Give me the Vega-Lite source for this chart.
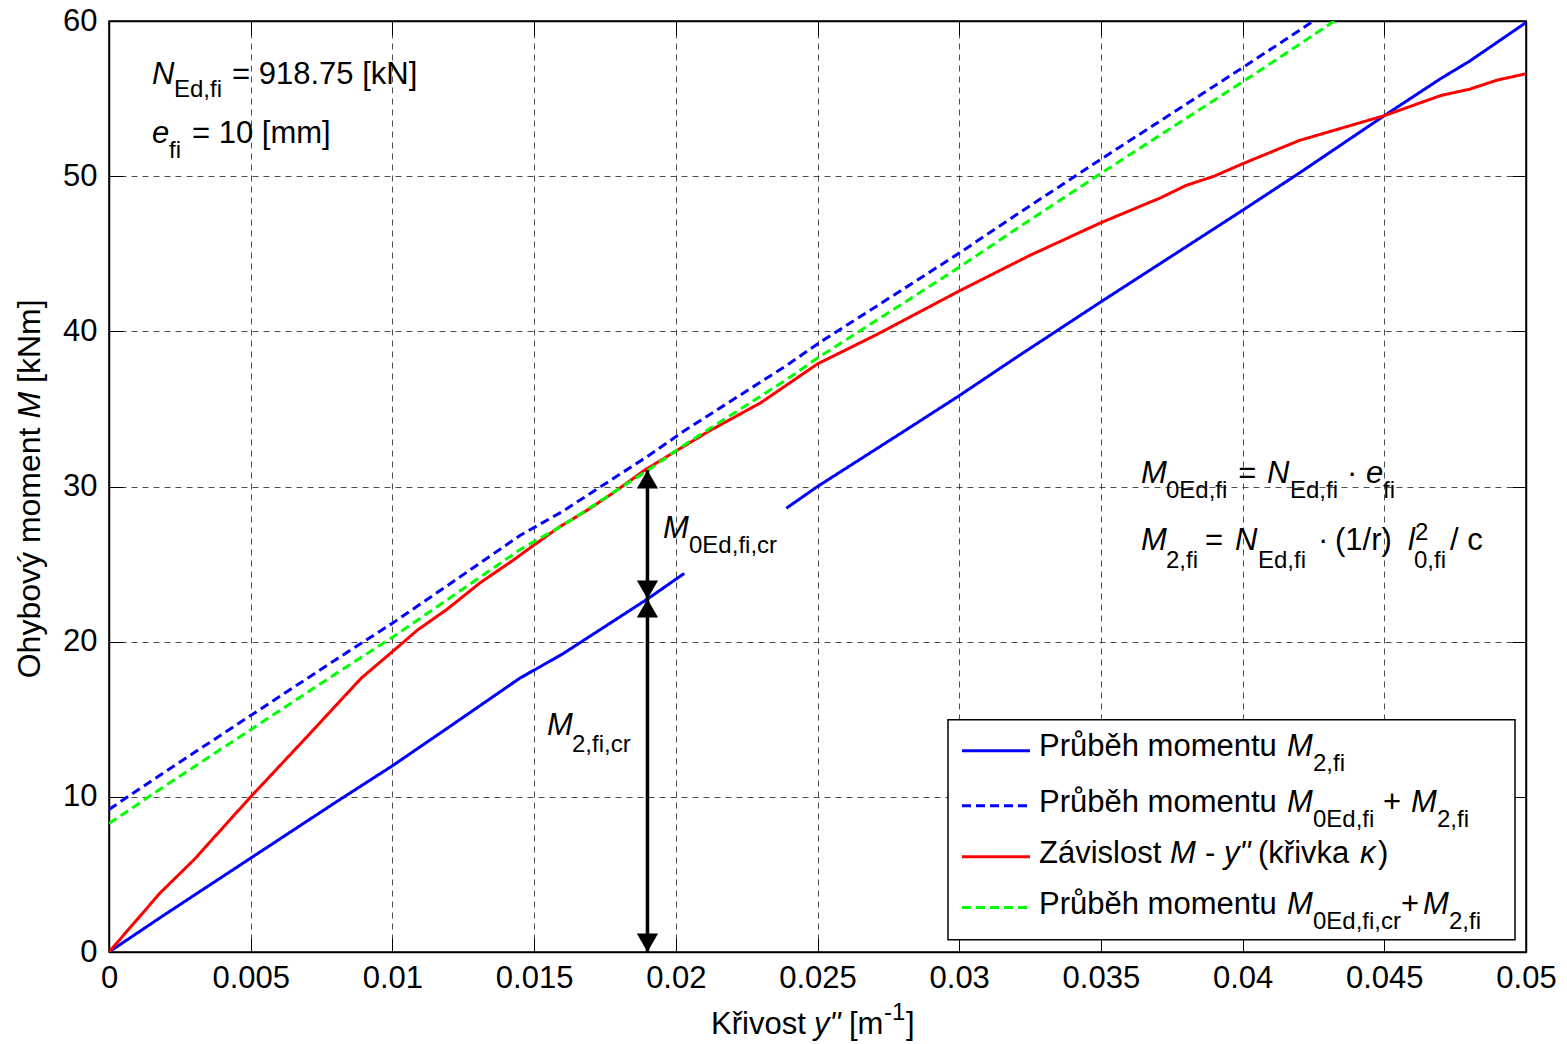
{
  "$schema": "https://vega.github.io/schema/vega-lite/v6.json",
  "width": 1417,
  "height": 931,
  "autosize": {"type": "none"},
  "padding": {"left": 109, "top": 21, "right": 41, "bottom": 92},
  "background": "white",
  "config": {
    "view": {"stroke": "black", "strokeWidth": 1.5},
    "font": "Liberation Sans",
    "text": {"font": "Liberation Sans", "color": "black"}
  },
  "datasets": {
    "curves": [
      {"x": 0, "y": 0, "s": "M2", "seg": "a"},
      {"x": 0.002, "y": 2.45, "s": "M2", "seg": "a"},
      {"x": 0.005, "y": 6.05, "s": "M2", "seg": "a"},
      {"x": 0.008, "y": 9.65, "s": "M2", "seg": "a"},
      {"x": 0.01, "y": 12.0, "s": "M2", "seg": "a"},
      {"x": 0.012, "y": 14.5, "s": "M2", "seg": "a"},
      {"x": 0.0145, "y": 17.65, "s": "M2", "seg": "a"},
      {"x": 0.016, "y": 19.2, "s": "M2", "seg": "a"},
      {"x": 0.019, "y": 22.75, "s": "M2", "seg": "a"},
      {"x": 0.0203, "y": 24.4, "s": "M2", "seg": "a"},
      {"x": 0.0239, "y": 28.6, "s": "M2", "seg": "b"},
      {"x": 0.025, "y": 30.0, "s": "M2", "seg": "b"},
      {"x": 0.028, "y": 33.5, "s": "M2", "seg": "b"},
      {"x": 0.03, "y": 35.85, "s": "M2", "seg": "b"},
      {"x": 0.032, "y": 38.3, "s": "M2", "seg": "b"},
      {"x": 0.035, "y": 41.9, "s": "M2", "seg": "b"},
      {"x": 0.04, "y": 47.8, "s": "M2", "seg": "b"},
      {"x": 0.042, "y": 50.2, "s": "M2", "seg": "b"},
      {"x": 0.045, "y": 53.9, "s": "M2", "seg": "b"},
      {"x": 0.047, "y": 56.3, "s": "M2", "seg": "b"},
      {"x": 0.048, "y": 57.4, "s": "M2", "seg": "b"},
      {"x": 0.05, "y": 59.9, "s": "M2", "seg": "b"},
      {"x": 0, "y": 9.19, "s": "M0M2", "seg": "a"},
      {"x": 0.002, "y": 11.64, "s": "M0M2", "seg": "a"},
      {"x": 0.005, "y": 15.24, "s": "M0M2", "seg": "a"},
      {"x": 0.008, "y": 18.84, "s": "M0M2", "seg": "a"},
      {"x": 0.01, "y": 21.19, "s": "M0M2", "seg": "a"},
      {"x": 0.012, "y": 23.69, "s": "M0M2", "seg": "a"},
      {"x": 0.0145, "y": 26.84, "s": "M0M2", "seg": "a"},
      {"x": 0.016, "y": 28.39, "s": "M0M2", "seg": "a"},
      {"x": 0.019, "y": 31.94, "s": "M0M2", "seg": "a"},
      {"x": 0.0203, "y": 33.59, "s": "M0M2", "seg": "a"},
      {"x": 0.0239, "y": 37.79, "s": "M0M2", "seg": "a"},
      {"x": 0.025, "y": 39.19, "s": "M0M2", "seg": "a"},
      {"x": 0.028, "y": 42.69, "s": "M0M2", "seg": "a"},
      {"x": 0.03, "y": 45.04, "s": "M0M2", "seg": "a"},
      {"x": 0.032, "y": 47.49, "s": "M0M2", "seg": "a"},
      {"x": 0.035, "y": 51.09, "s": "M0M2", "seg": "a"},
      {"x": 0.04, "y": 56.99, "s": "M0M2", "seg": "a"},
      {"x": 0.042, "y": 59.39, "s": "M0M2", "seg": "a"},
      {"x": 0.045, "y": 63.09, "s": "M0M2", "seg": "a"},
      {"x": 0, "y": 0, "s": "kappa", "seg": "a"},
      {"x": 0.0018, "y": 3.8, "s": "kappa", "seg": "a"},
      {"x": 0.003, "y": 5.95, "s": "kappa", "seg": "a"},
      {"x": 0.005, "y": 10.0, "s": "kappa", "seg": "a"},
      {"x": 0.007, "y": 13.9, "s": "kappa", "seg": "a"},
      {"x": 0.0089, "y": 17.65, "s": "kappa", "seg": "a"},
      {"x": 0.0099, "y": 19.2, "s": "kappa", "seg": "a"},
      {"x": 0.0109, "y": 20.77, "s": "kappa", "seg": "a"},
      {"x": 0.0119, "y": 22.05, "s": "kappa", "seg": "a"},
      {"x": 0.0131, "y": 23.8, "s": "kappa", "seg": "a"},
      {"x": 0.0143, "y": 25.3, "s": "kappa", "seg": "a"},
      {"x": 0.0149, "y": 26.1, "s": "kappa", "seg": "a"},
      {"x": 0.0159, "y": 27.4, "s": "kappa", "seg": "a"},
      {"x": 0.0169, "y": 28.5, "s": "kappa", "seg": "a"},
      {"x": 0.0178, "y": 29.6, "s": "kappa", "seg": "a"},
      {"x": 0.0189, "y": 31.05, "s": "kappa", "seg": "a"},
      {"x": 0.0202, "y": 32.5, "s": "kappa", "seg": "a"},
      {"x": 0.0212, "y": 33.6, "s": "kappa", "seg": "a"},
      {"x": 0.023, "y": 35.4, "s": "kappa", "seg": "a"},
      {"x": 0.025, "y": 37.9, "s": "kappa", "seg": "a"},
      {"x": 0.0271, "y": 39.8, "s": "kappa", "seg": "a"},
      {"x": 0.03, "y": 42.6, "s": "kappa", "seg": "a"},
      {"x": 0.0325, "y": 44.9, "s": "kappa", "seg": "a"},
      {"x": 0.035, "y": 47.0, "s": "kappa", "seg": "a"},
      {"x": 0.0371, "y": 48.6, "s": "kappa", "seg": "a"},
      {"x": 0.038, "y": 49.4, "s": "kappa", "seg": "a"},
      {"x": 0.039, "y": 50.0, "s": "kappa", "seg": "a"},
      {"x": 0.04, "y": 50.8, "s": "kappa", "seg": "a"},
      {"x": 0.042, "y": 52.3, "s": "kappa", "seg": "a"},
      {"x": 0.045, "y": 53.9, "s": "kappa", "seg": "a"},
      {"x": 0.047, "y": 55.2, "s": "kappa", "seg": "a"},
      {"x": 0.048, "y": 55.6, "s": "kappa", "seg": "a"},
      {"x": 0.049, "y": 56.2, "s": "kappa", "seg": "a"},
      {"x": 0.05, "y": 56.6, "s": "kappa", "seg": "a"},
      {"x": 0, "y": 8.28, "s": "cr", "seg": "a"},
      {"x": 0.002, "y": 10.73, "s": "cr", "seg": "a"},
      {"x": 0.005, "y": 14.33, "s": "cr", "seg": "a"},
      {"x": 0.008, "y": 17.93, "s": "cr", "seg": "a"},
      {"x": 0.01, "y": 20.28, "s": "cr", "seg": "a"},
      {"x": 0.012, "y": 22.78, "s": "cr", "seg": "a"},
      {"x": 0.0145, "y": 25.93, "s": "cr", "seg": "a"},
      {"x": 0.016, "y": 27.48, "s": "cr", "seg": "a"},
      {"x": 0.019, "y": 31.03, "s": "cr", "seg": "a"},
      {"x": 0.0203, "y": 32.68, "s": "cr", "seg": "a"},
      {"x": 0.0239, "y": 36.88, "s": "cr", "seg": "a"},
      {"x": 0.025, "y": 38.28, "s": "cr", "seg": "a"},
      {"x": 0.028, "y": 41.78, "s": "cr", "seg": "a"},
      {"x": 0.03, "y": 44.13, "s": "cr", "seg": "a"},
      {"x": 0.032, "y": 46.58, "s": "cr", "seg": "a"},
      {"x": 0.035, "y": 50.18, "s": "cr", "seg": "a"},
      {"x": 0.04, "y": 56.08, "s": "cr", "seg": "a"},
      {"x": 0.042, "y": 58.48, "s": "cr", "seg": "a"},
      {"x": 0.045, "y": 62.18, "s": "cr", "seg": "a"}
    ],
    "legendLines": [
      {"s": "M2", "ly": 12.97},
      {"s": "M0M2", "ly": 9.43},
      {"s": "kappa", "ly": 6.14},
      {"s": "cr", "ly": 2.86}
    ],
    "regText": [
      {"x": 0.00434, "y": 55.95, "t": "= 918.75 [kN]"},
      {"x": 0.002929, "y": 52.15, "t": "= 10 [mm]"},
      {"x": 0.039845, "y": 30.24, "t": "="},
      {"x": 0.043684, "y": 30.24, "t": "·"},
      {"x": 0.038673, "y": 25.92, "t": "="},
      {"x": 0.042661, "y": 25.92, "t": "·"},
      {"x": 0.04326, "y": 25.92, "t": "(1/r)"},
      {"x": 0.047318, "y": 25.92, "t": "/ c"},
      {"x": 0.032816, "y": 12.65, "t": "Průběh momentu"},
      {"x": 0.032816, "y": 9.04, "t": "Průběh momentu"},
      {"x": 0.044954, "y": 9.04, "t": "+"},
      {"x": 0.032816, "y": 5.75, "t": "Závislost"},
      {"x": 0.038673, "y": 5.75, "t": "-"},
      {"x": 0.040543, "y": 5.75, "t": "(křivka"},
      {"x": 0.044778, "y": 5.75, "t": ")"},
      {"x": 0.032816, "y": 2.47, "t": "Průběh momentu"},
      {"x": 0.045589, "y": 2.47, "t": "+"},
      {"x": 0.021242, "y": -5.27, "t": "Křivost"},
      {"x": 0.026111, "y": -5.27, "t": "[m"},
      {"x": 0.028123, "y": -5.27, "t": "]"}
    ],
    "itText": [
      {"x": 0.001517, "y": 55.95, "t": "N"},
      {"x": 0.001517, "y": 52.15, "t": "e"},
      {"x": 0.036415, "y": 30.24, "t": "M"},
      {"x": 0.040861, "y": 30.24, "t": "N"},
      {"x": 0.044355, "y": 30.24, "t": "e"},
      {"x": 0.036415, "y": 25.92, "t": "M"},
      {"x": 0.039732, "y": 25.92, "t": "N"},
      {"x": 0.045836, "y": 25.92, "t": "l"},
      {"x": 0.019548, "y": 26.69, "t": "M"},
      {"x": 0.015455, "y": 14.01, "t": "M"},
      {"x": 0.041567, "y": 12.65, "t": "M"},
      {"x": 0.041567, "y": 9.04, "t": "M"},
      {"x": 0.045942, "y": 9.04, "t": "M"},
      {"x": 0.037438, "y": 5.75, "t": "M"},
      {"x": 0.039344, "y": 5.75, "t": "y\""},
      {"x": 0.044142, "y": 5.75, "t": "κ"},
      {"x": 0.041567, "y": 2.47, "t": "M"},
      {"x": 0.046366, "y": 2.47, "t": "M"},
      {"x": 0.024876, "y": -5.27, "t": "y\""}
    ],
    "subText": [
      {"x": 0.002294, "y": 55.11, "t": "Ed,fi"},
      {"x": 0.002117, "y": 51.18, "t": "fi"},
      {"x": 0.037297, "y": 29.27, "t": "0Ed,fi"},
      {"x": 0.041673, "y": 29.27, "t": "Ed,fi"},
      {"x": 0.044954, "y": 29.27, "t": "fi"},
      {"x": 0.037297, "y": 24.76, "t": "2,fi"},
      {"x": 0.040543, "y": 24.76, "t": "Ed,fi"},
      {"x": 0.046083, "y": 26.57, "t": "2"},
      {"x": 0.046048, "y": 24.76, "t": "0,fi"},
      {"x": 0.020466, "y": 25.73, "t": "0Ed,fi,cr"},
      {"x": 0.016337, "y": 12.91, "t": "2,fi,cr"},
      {"x": 0.042484, "y": 11.68, "t": "2,fi"},
      {"x": 0.042484, "y": 8.07, "t": "0Ed,fi"},
      {"x": 0.04686, "y": 8.07, "t": "2,fi"},
      {"x": 0.042484, "y": 1.5, "t": "0Ed,fi,cr"},
      {"x": 0.047283, "y": 1.5, "t": "2,fi"},
      {"x": 0.027346, "y": -4.37, "t": "-1"}
    ],
    "yTitleReg": [
      {"x": -0.002435, "y": 17.64, "t": "Ohybový moment"},
      {"x": -0.002435, "y": 36.67, "t": "[kNm]"}
    ],
    "yTitleIt": [
      {"x": -0.002435, "y": 34.38, "t": "M"}
    ],
    "headsUp": [
      {"x": 0.019, "y": 31.05},
      {"x": 0.019, "y": 22.75}
    ],
    "headsDown": [
      {"x": 0.019, "y": 22.75},
      {"x": 0.019, "y": 0}
    ]
  },
  "layer": [
    {
      "data": {"name": "curves"},
      "mark": {"type": "line", "strokeWidth": 3, "clip": true},
      "encoding": {
        "x": {
          "field": "x", "type": "quantitative",
          "scale": {"domain": [0, 0.05], "nice": false, "zero": false},
          "axis": {
            "orient": "bottom", "title": null,
            "values": [0, 0.005, 0.01, 0.015, 0.02, 0.025, 0.03, 0.035, 0.04, 0.045, 0.05],
            "format": "~g", "labelFlush": false, "labelOverlap": false,
            "labelFont": "Liberation Sans", "labelFontSize": 31, "labelColor": "black", "labelPadding": 25,
            "tickSize": -14, "tickColor": "black", "tickWidth": 1,
            "domainColor": "black", "domainWidth": 1.5,
            "grid": true, "gridColor": "#222", "gridDash": [6, 5], "gridWidth": 1, "gridOpacity": 0.8
          }
        },
        "y": {
          "field": "y", "type": "quantitative",
          "scale": {"domain": [0, 60], "nice": false},
          "axis": {
            "orient": "left", "title": null,
            "values": [0, 10, 20, 30, 40, 50, 60],
            "labelFlush": false, "labelOverlap": false,
            "labelFont": "Liberation Sans", "labelFontSize": 31, "labelColor": "black", "labelPadding": 26,
            "tickSize": -14, "tickColor": "black", "tickWidth": 1,
            "domainColor": "black", "domainWidth": 1.5,
            "grid": true, "gridColor": "#222", "gridDash": [6, 5], "gridWidth": 1, "gridOpacity": 0.8
          }
        },
        "color": {
          "field": "s", "type": "nominal",
          "scale": {"domain": ["M2", "M0M2", "kappa", "cr"], "range": ["#0000ff", "#0000ff", "#ff0000", "#00ff00"]},
          "legend": null
        },
        "strokeDash": {
          "field": "s", "type": "nominal",
          "scale": {"domain": ["M2", "M0M2", "kappa", "cr"], "range": [[1, 0], [9, 5], [1, 0], [9, 5]]},
          "legend": null
        },
        "detail": {"field": "seg", "type": "nominal"},
        "order": {"field": "x", "type": "quantitative"}
      }
    },
    {
      "data": {"name": "curves"},
      "mark": {"type": "point", "opacity": 0},
      "encoding": {
        "x": {
          "field": "x", "type": "quantitative",
          "scale": {"domain": [0, 0.05], "nice": false, "zero": false},
          "axis": {
            "orient": "top", "title": null, "labels": false, "grid": false,
            "values": [0, 0.005, 0.01, 0.015, 0.02, 0.025, 0.03, 0.035, 0.04, 0.045, 0.05],
            "tickSize": -14, "tickColor": "black", "domainColor": "black", "domainWidth": 1.5
          }
        },
        "y": {
          "field": "y", "type": "quantitative",
          "scale": {"domain": [0, 60], "nice": false},
          "axis": {
            "orient": "right", "title": null, "labels": false, "grid": false,
            "values": [0, 10, 20, 30, 40, 50, 60],
            "tickSize": -14, "tickColor": "black", "domainColor": "black", "domainWidth": 1.5
          }
        }
      }
    },
    {
      "data": {"values": [{}]},
      "mark": {"type": "rule", "strokeWidth": 3.5, "color": "black"},
      "encoding": {
        "x": {"datum": 0.019, "type": "quantitative", "scale": {"domain": [0, 0.05], "nice": false, "zero": false}, "axis": null},
        "y": {"datum": 0, "type": "quantitative", "scale": {"domain": [0, 60], "nice": false}, "axis": null},
        "y2": {"datum": 31.05}
      }
    },
    {
      "data": {"name": "headsUp"},
      "mark": {"type": "point", "shape": "triangle-up", "filled": true, "size": 450, "color": "black", "opacity": 1, "yOffset": 9.2},
      "encoding": {
        "x": {"field": "x", "type": "quantitative", "scale": {"domain": [0, 0.05], "nice": false, "zero": false}, "axis": null},
        "y": {"field": "y", "type": "quantitative", "scale": {"domain": [0, 60], "nice": false}, "axis": null}
      }
    },
    {
      "data": {"name": "headsDown"},
      "mark": {"type": "point", "shape": "triangle-down", "filled": true, "size": 450, "color": "black", "opacity": 1, "yOffset": -9.2},
      "encoding": {
        "x": {"field": "x", "type": "quantitative", "scale": {"domain": [0, 0.05], "nice": false, "zero": false}, "axis": null},
        "y": {"field": "y", "type": "quantitative", "scale": {"domain": [0, 60], "nice": false}, "axis": null}
      }
    },
    {
      "data": {"values": [{}]},
      "mark": {"type": "rect", "fill": "white", "stroke": "black", "strokeWidth": 1.5},
      "encoding": {
        "x": {"datum": 0.029605, "type": "quantitative", "scale": {"domain": [0, 0.05], "nice": false, "zero": false}, "axis": null},
        "x2": {"datum": 0.049612},
        "y": {"datum": 14.97, "type": "quantitative", "scale": {"domain": [0, 60], "nice": false}, "axis": null},
        "y2": {"datum": 0.79}
      }
    },
    {
      "data": {"name": "legendLines"},
      "mark": {"type": "rule", "strokeWidth": 3},
      "encoding": {
        "x": {"datum": 0.030099, "type": "quantitative", "scale": {"domain": [0, 0.05], "nice": false, "zero": false}, "axis": null},
        "x2": {"datum": 0.032498},
        "y": {"field": "ly", "type": "quantitative", "scale": {"domain": [0, 60], "nice": false}, "axis": null},
        "color": {
          "field": "s", "type": "nominal",
          "scale": {"domain": ["M2", "M0M2", "kappa", "cr"], "range": ["#0000ff", "#0000ff", "#ff0000", "#00ff00"]},
          "legend": null
        },
        "strokeDash": {
          "field": "s", "type": "nominal",
          "scale": {"domain": ["M2", "M0M2", "kappa", "cr"], "range": [[1, 0], [9, 5], [1, 0], [9, 5]]},
          "legend": null
        }
      }
    },
    {
      "data": {"name": "regText"},
      "mark": {"type": "text", "font": "Liberation Sans", "fontSize": 31, "align": "left", "baseline": "alphabetic", "color": "black"},
      "encoding": {
        "x": {"field": "x", "type": "quantitative", "scale": {"domain": [0, 0.05], "nice": false, "zero": false}, "axis": null},
        "y": {"field": "y", "type": "quantitative", "scale": {"domain": [0, 60], "nice": false}, "axis": null},
        "text": {"field": "t"}
      }
    },
    {
      "data": {"name": "itText"},
      "mark": {"type": "text", "font": "Liberation Sans", "fontSize": 31, "fontStyle": "italic", "align": "left", "baseline": "alphabetic", "color": "black"},
      "encoding": {
        "x": {"field": "x", "type": "quantitative", "scale": {"domain": [0, 0.05], "nice": false, "zero": false}, "axis": null},
        "y": {"field": "y", "type": "quantitative", "scale": {"domain": [0, 60], "nice": false}, "axis": null},
        "text": {"field": "t"}
      }
    },
    {
      "data": {"name": "subText"},
      "mark": {"type": "text", "font": "Liberation Sans", "fontSize": 24, "align": "left", "baseline": "alphabetic", "color": "black"},
      "encoding": {
        "x": {"field": "x", "type": "quantitative", "scale": {"domain": [0, 0.05], "nice": false, "zero": false}, "axis": null},
        "y": {"field": "y", "type": "quantitative", "scale": {"domain": [0, 60], "nice": false}, "axis": null},
        "text": {"field": "t"}
      }
    },
    {
      "data": {"name": "yTitleReg"},
      "mark": {"type": "text", "font": "Liberation Sans", "fontSize": 32, "angle": 270, "align": "left", "baseline": "alphabetic", "color": "black"},
      "encoding": {
        "x": {"field": "x", "type": "quantitative", "scale": {"domain": [0, 0.05], "nice": false, "zero": false}, "axis": null},
        "y": {"field": "y", "type": "quantitative", "scale": {"domain": [0, 60], "nice": false}, "axis": null},
        "text": {"field": "t"}
      }
    },
    {
      "data": {"name": "yTitleIt"},
      "mark": {"type": "text", "font": "Liberation Sans", "fontSize": 32, "fontStyle": "italic", "angle": 270, "align": "left", "baseline": "alphabetic", "color": "black"},
      "encoding": {
        "x": {"field": "x", "type": "quantitative", "scale": {"domain": [0, 0.05], "nice": false, "zero": false}, "axis": null},
        "y": {"field": "y", "type": "quantitative", "scale": {"domain": [0, 60], "nice": false}, "axis": null},
        "text": {"field": "t"}
      }
    }
  ],
  "resolve": {"axis": {"x": "independent", "y": "independent"}}
}
